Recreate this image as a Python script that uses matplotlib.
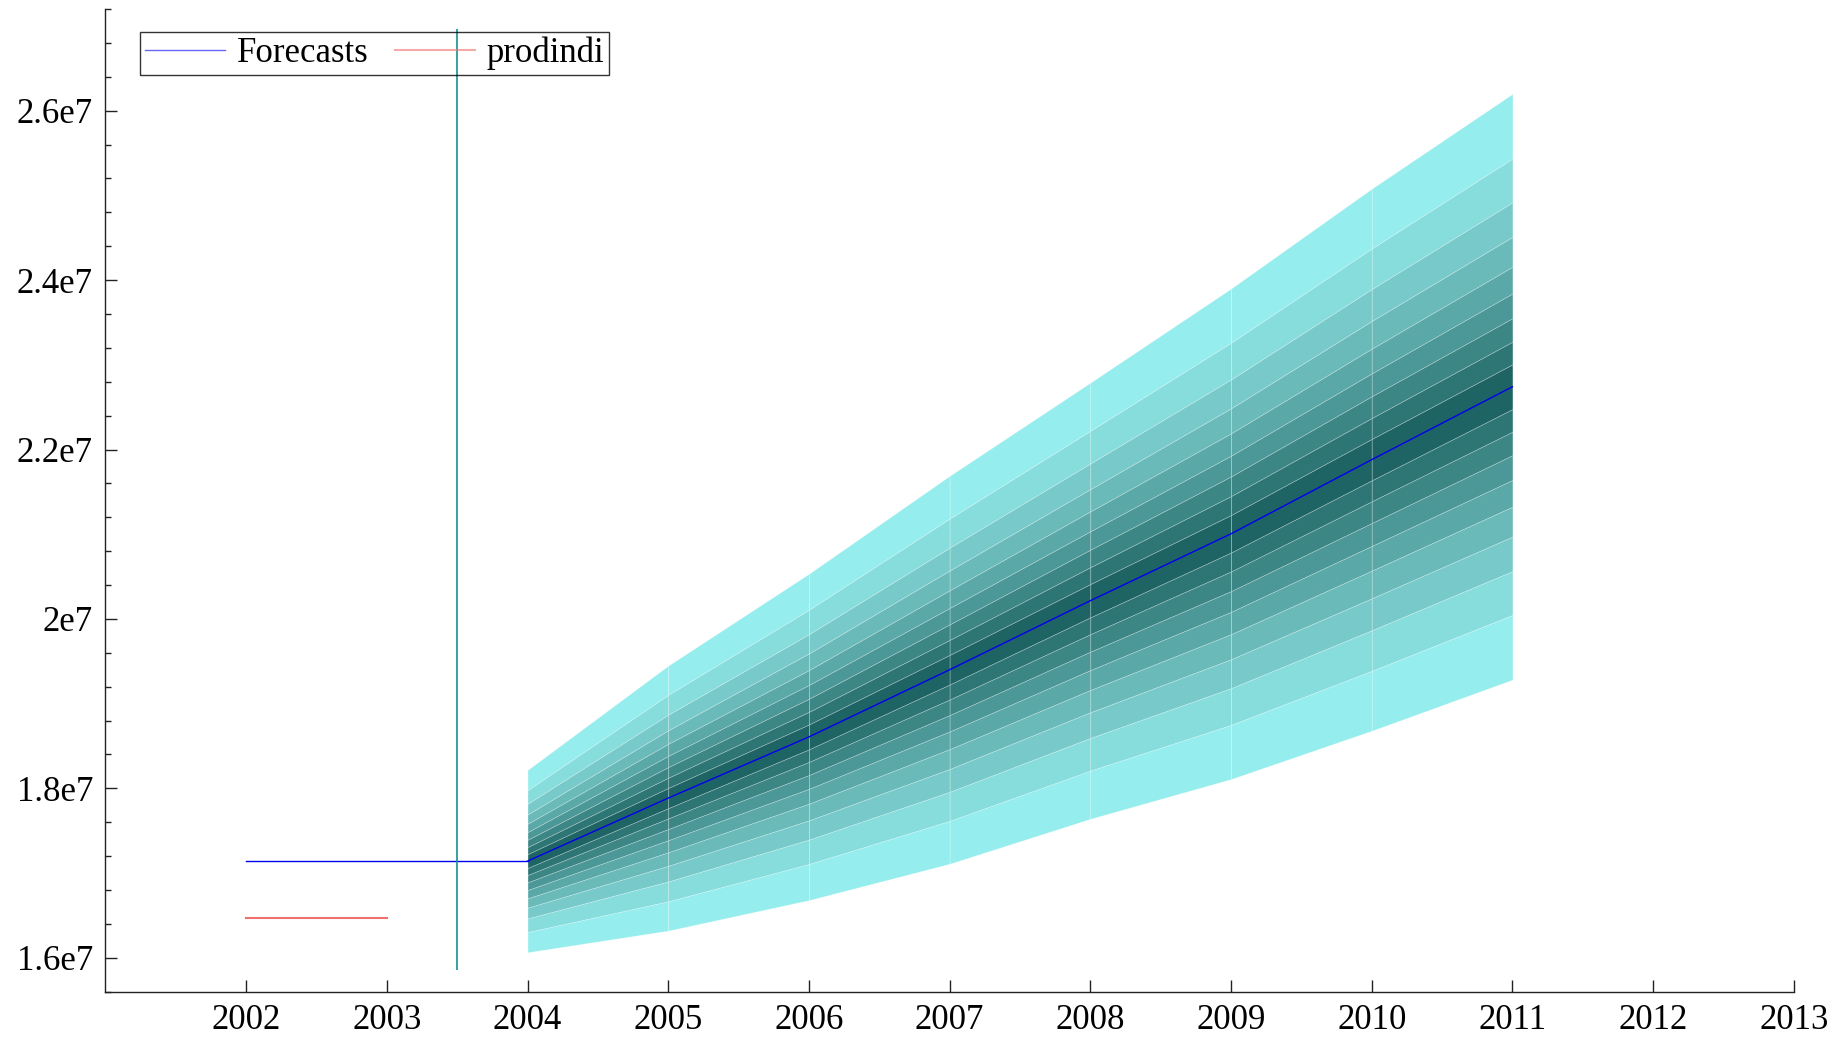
import matplotlib.pyplot as plt
import numpy as np
from matplotlib.ticker import FuncFormatter, FixedLocator

plt.rcParams['font.family'] = ['Liberation Serif', 'DejaVu Serif']

# forecast horizon with point forecasts and forecast standard errors
fc_years = np.arange(2004, 2012)
forecasts = np.array([1.7141, 1.7885, 1.8607, 1.9400, 2.0215, 2.1005, 2.1880, 2.2741]) * 1e7
std_err = np.array([0.0654, 0.0951, 0.1171, 0.1392, 0.1565, 0.1760, 0.1945, 0.2102]) * 1e7

# normal quantiles for the 10%, 20%, ..., 90% central intervals
z_bands = [0.126, 0.253, 0.385, 0.524, 0.674, 0.842, 1.036, 1.282, 1.645]
shades = ['#96eded', '#87dcdc', '#78caca', '#6ababa', '#5ba8a8',
          '#4c9797', '#3d8686', '#2e7575', '#1f6464']

# flat forecast line before the horizon, and the actual series
hist_years = [2002, 2003, 2004]
hist_fc = [1.7141e7, 1.7141e7, 1.7141e7]
prod_years = [2002, 2003]
prodindi = [1.6472e7, 1.6472e7]

split_year = 2003.5
split_lo, split_hi = 1.586e7, 2.696e7

fig = plt.figure(figsize=(18.47, 10.39), dpi=100)
ax = fig.add_axes([0.0571, 0.0456, 0.9141, 0.9457])


def band(k):
    return forecasts - k * std_err, forecasts + k * std_err


# fan: one polygon per year segment and band, so the seams show
for i in range(len(fc_years) - 1):
    xs = fc_years[i:i + 2]
    for k in range(len(z_bands)):
        lo_out, hi_out = band(z_bands[k])
        col = shades[len(z_bands) - 1 - k]
        if k == 0:
            parts = [(lo_out, hi_out)]
        else:
            lo_in, hi_in = band(z_bands[k - 1])
            parts = [(lo_out, lo_in), (hi_in, hi_out)]
        for a, b in parts:
            ax.fill_between(xs, a[i:i + 2], b[i:i + 2], facecolor=col,
                            edgecolor=(1, 1, 1, 0.3), linewidth=0.5, zorder=1)

ax.plot(hist_years, hist_fc, color='#0000ee', lw=1.0, zorder=3)
ax.plot(fc_years, forecasts, color='#0000ee', lw=1.0, zorder=3, label='Forecasts')
ax.plot(prod_years, prodindi, color='#f07070', lw=1.5, zorder=3, label='prodindi')
ax.vlines(split_year, split_lo, split_hi, color='#179090', lw=1.2, zorder=4)

ax.set_xlim(2001, 2013)
ax.set_ylim(1.56e7, 2.72e7)
ax.xaxis.set_major_locator(FixedLocator(np.arange(2002, 2014)))
ax.yaxis.set_major_locator(FixedLocator(np.arange(1.6e7, 2.61e7, 0.2e7)))
ax.yaxis.set_minor_locator(FixedLocator(np.arange(1.56e7, 2.73e7, 0.04e7)))
ax.yaxis.set_major_formatter(FuncFormatter(lambda v, p: '%ge7' % round(v / 1e7, 2)))

for s in ['top', 'right']:
    ax.spines[s].set_visible(False)
for s in ['left', 'bottom']:
    ax.spines[s].set_linewidth(1.0)
    ax.spines[s].set_color('#222222')

ax.tick_params(which='major', direction='in', length=8.5, width=1, labelsize=25,
               color='#222222')
ax.tick_params(axis='x', pad=9)
ax.tick_params(axis='y', pad=9)
ax.tick_params(which='minor', direction='in', length=4, width=1, color='#222222')

leg = ax.legend(loc='upper left', bbox_to_anchor=(0.0758, 0.9694),
                bbox_transform=fig.transFigure, borderaxespad=0, ncol=2,
                fontsize=25, handlelength=2.3, handletextpad=0.35,
                columnspacing=0.75, borderpad=0.14, fancybox=False,
                frameon=True, edgecolor='black', facecolor='none')
leg.get_frame().set_linewidth(1.0)
for line in leg.get_lines():
    line.set_alpha(0.6)

fig.savefig('out.png', dpi=100)
